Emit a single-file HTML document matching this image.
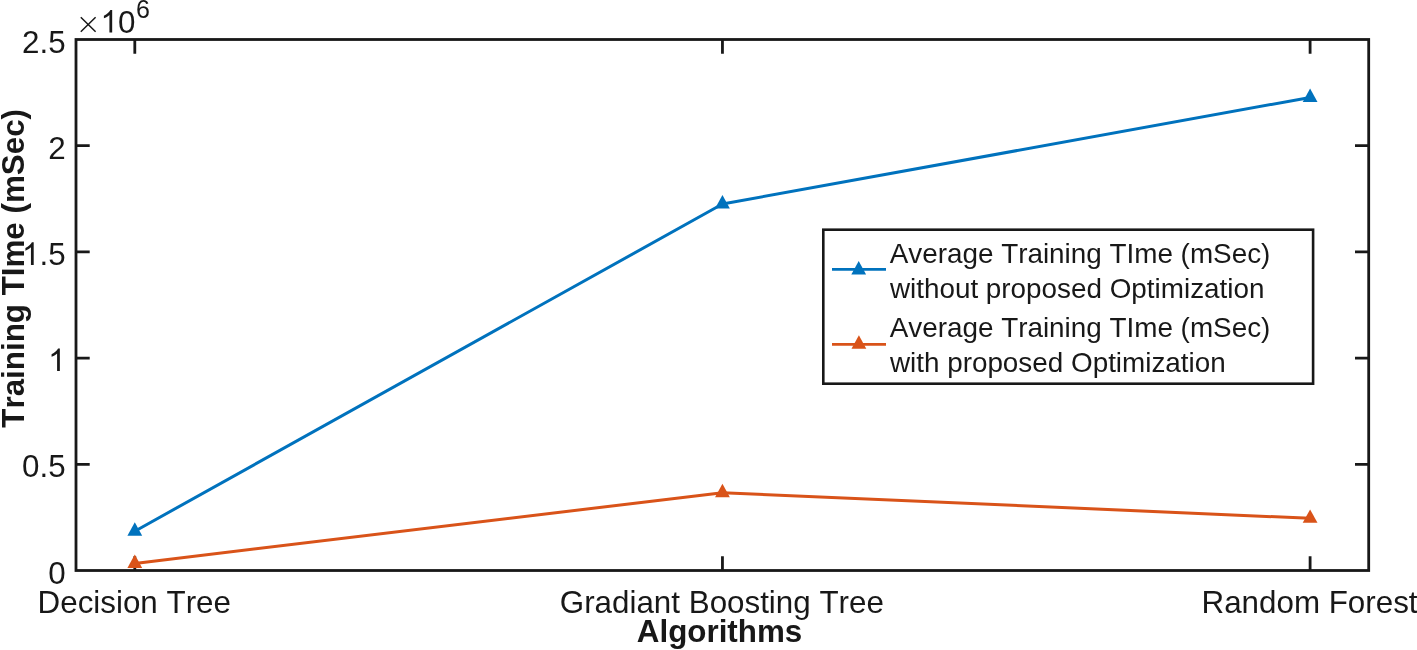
<!DOCTYPE html>
<html>
<head>
<meta charset="utf-8">
<style>
html,body{margin:0;padding:0;background:#fff;}
body{width:1417px;height:650px;overflow:hidden;}
svg{display:block;will-change:transform;}
text{font-family:"Liberation Sans", sans-serif;fill:#181818;font-kerning:none;}
</style>
</head>
<body>
<svg width="1417" height="650" viewBox="0 0 1417 650">
<rect x="0" y="0" width="1417" height="650" fill="#fff"/>

<!-- ticks -->
<g stroke="#181818" stroke-width="2.8" fill="none">
  <!-- x ticks bottom -->
  <path d="M134.8 570.5V556.3M722.45 570.5V556.3M1310.1 570.5V556.3"/>
  <!-- x ticks top -->
  <path d="M134.8 39.5V53.7M722.45 39.5V53.7M1310.1 39.5V53.7"/>
  <!-- y ticks left -->
  <path d="M76 464.3H89.7M76 358.1H89.7M76 251.9H89.7M76 145.7H89.7"/>
  <!-- y ticks right -->
  <path d="M1368.7 464.3H1355M1368.7 358.1H1355M1368.7 251.9H1355M1368.7 145.7H1355"/>
  <!-- axes box -->
  <rect x="76" y="39.5" width="1292.7" height="531" stroke-linejoin="miter"/>
</g>

<!-- data lines -->
<polyline points="134.8,531.2 722.45,204.0 1310.1,97.4" fill="none" stroke="#0072BD" stroke-width="3" stroke-linejoin="round"/>
<polyline points="134.8,563.4 722.45,492.7 1310.1,518.3" fill="none" stroke="#D95319" stroke-width="3" stroke-linejoin="round"/>

<!-- markers -->
<defs>
  <path id="tri" d="M0 -8.9L7.4 4.5L-7.4 4.5Z"/>
  <path id="one" d="M763 0L583 0L583 1147Q518 1085 412 1023Q306 961 222 930L222 1104Q373 1175 486 1276Q599 1377 646 1472L763 1472Z"/>
</defs>
<g fill="#0072BD">
  <use href="#tri" x="134.8" y="531.2"/>
  <use href="#tri" x="722.45" y="204.0"/>
  <use href="#tri" x="1310.1" y="97.4"/>
</g>
<g fill="#D95319">
  <use href="#tri" x="134.8" y="563.4"/>
  <use href="#tri" x="722.45" y="492.7"/>
  <use href="#tri" x="1310.1" y="518.3"/>
</g>

<!-- y tick labels -->
<g font-size="31.35" fill="#181818">
  <text x="65.6" y="52.5" text-anchor="end">2.5</text>
  <text x="65.6" y="158.7" text-anchor="end">2</text>
  <use href="#one" transform="translate(22.02,264.9) scale(0.015308,-0.015308)"/><text x="39.45" y="264.9">.5</text>
  <use href="#one" transform="translate(48.17,371.1) scale(0.015308,-0.015308)"/>
  <text x="65.6" y="477.3" text-anchor="end">0.5</text>
  <text x="65.6" y="583.5" text-anchor="end">0</text>
</g>

<!-- exponent -->
<g stroke="#181818" stroke-width="1.5">
  <path d="M80.8 17.2L95.6 31.8M95.6 17.2L80.8 31.8"/>
</g>
<g fill="#181818"><use href="#one" transform="translate(100.5,32.6) scale(0.015308,-0.015308)"/></g><text x="117.9" y="32.6" font-size="31.35">0</text>
<text x="136.1" y="17.5" font-size="25">6</text>

<!-- x tick labels -->
<g font-size="31.35">
  <text x="37.6" y="612.7">Decision Tree</text>
  <text x="559.8" y="612.7">Gradiant Boosting Tree</text>
  <text x="1309.55" y="612.7" text-anchor="middle">Random Forest</text>
</g>

<!-- axis labels -->
<text x="636.8" y="641.8" font-size="31.35" font-weight="bold">Algorithms</text>
<text transform="translate(23.6,427.7) rotate(-90)" font-size="31.35" font-weight="bold">Training TIme (mSec)</text>

<!-- legend -->
<rect x="823.3" y="229.7" width="489.8" height="154" fill="#fff" stroke="#181818" stroke-width="2.6"/>
<line x1="832" y1="269.4" x2="886" y2="269.4" stroke="#0072BD" stroke-width="2.8"/>
<use href="#tri" x="858.7" y="269.9" fill="#0072BD"/>
<line x1="832" y1="344.3" x2="886" y2="344.3" stroke="#D95319" stroke-width="2.8"/>
<use href="#tri" x="858.9" y="344.2" fill="#D95319"/>
<g font-size="27.85">
  <text x="889.7" y="262.5">Average Training TIme (mSec)</text>
  <text x="889.9" y="298.4">without proposed Optimization</text>
  <text x="889.7" y="336.8">Average Training TIme (mSec)</text>
  <text x="889.9" y="372.4">with proposed Optimization</text>
</g>
</svg>
</body>
</html>
